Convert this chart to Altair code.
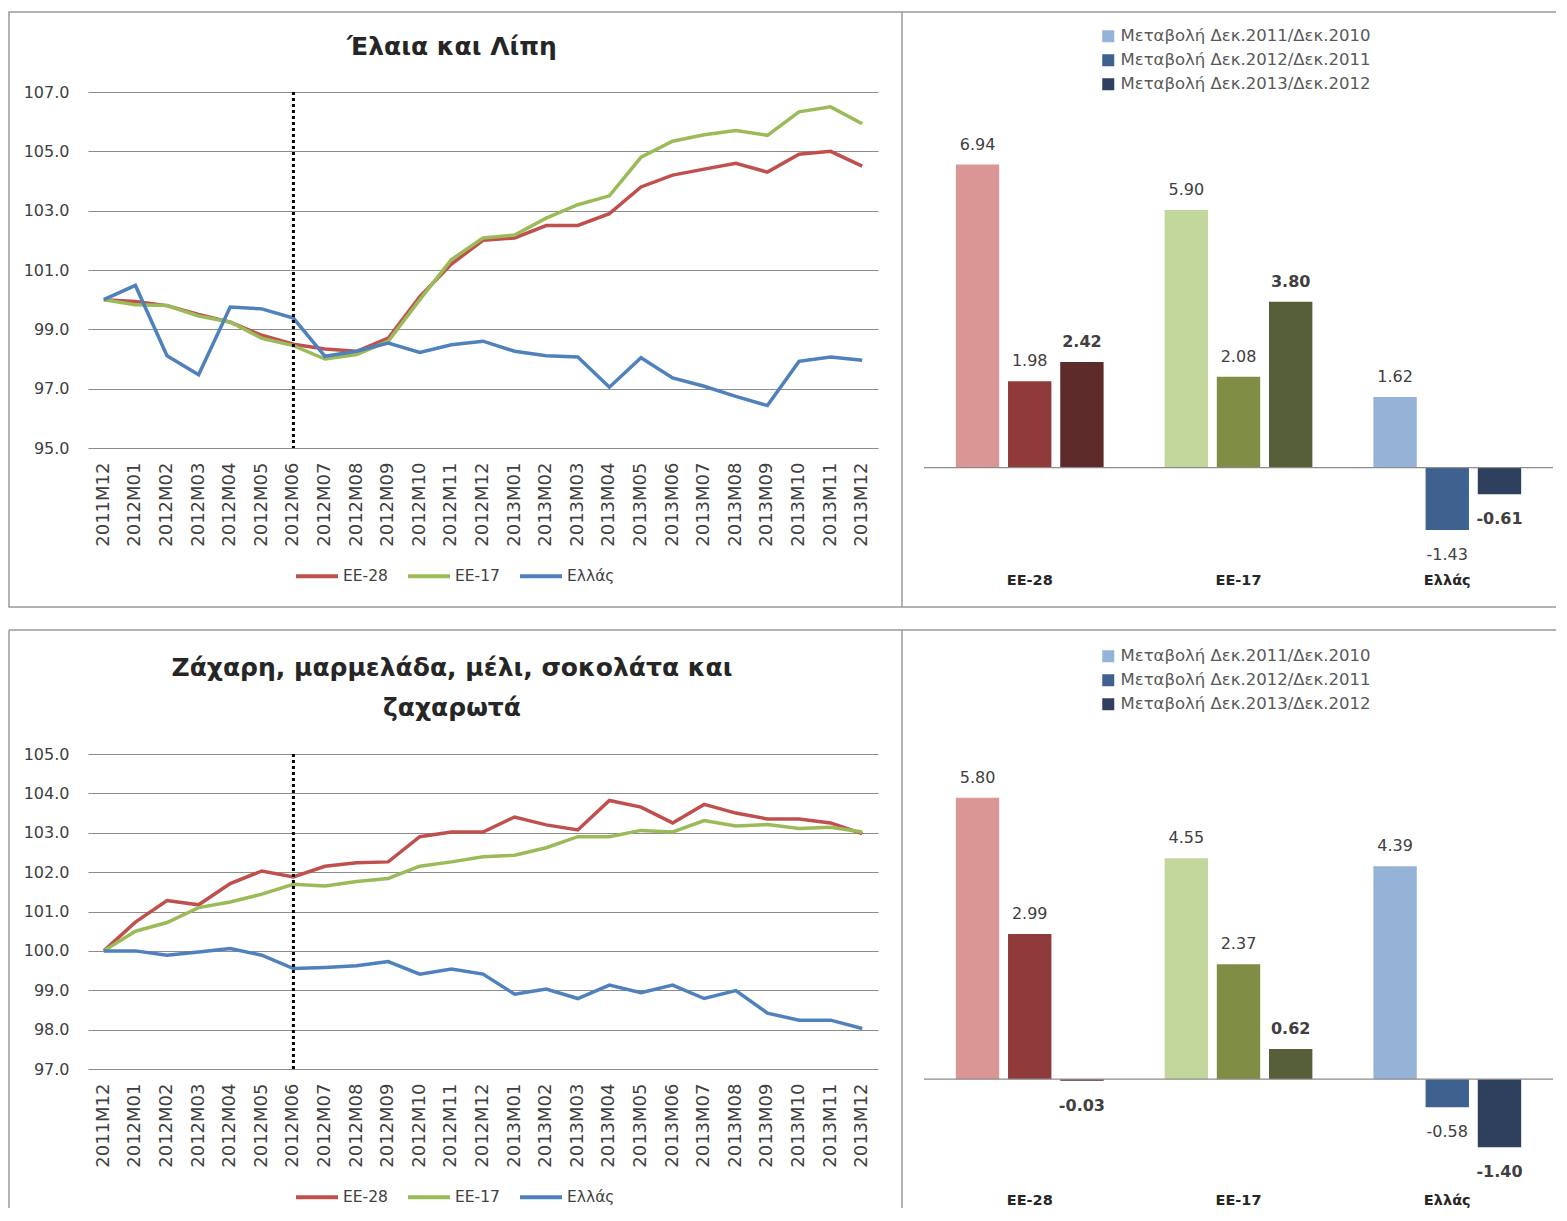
import altair as alt
import pandas as pd

months = ["2011M12", "2012M01", "2012M02", "2012M03", "2012M04", "2012M05", "2012M06",
          "2012M07", "2012M08", "2012M09", "2012M10", "2012M11", "2012M12", "2013M01",
          "2013M02", "2013M03", "2013M04", "2013M05", "2013M06", "2013M07", "2013M08",
          "2013M09", "2013M10", "2013M11", "2013M12"]
series_names = ["ΕΕ-28", "ΕΕ-17", "Ελλάς"]
line_colors = ["#C0504D", "#9BBB59", "#4F81BD"]
marker_month = "2012M06"

oil_title = "Έλαια και Λίπη"
oil_ee28 = [100.0, 99.94, 99.8, 99.5, 99.24, 98.8, 98.5, 98.34, 98.26, 98.7, 100.1, 101.2, 102.0,
            102.08, 102.5, 102.5, 102.9, 103.8, 104.2, 104.4, 104.6, 104.3, 104.9, 105.0, 104.5]
oil_ee17 = [100.0, 99.83, 99.8, 99.45, 99.25, 98.7, 98.45, 98.0, 98.15, 98.6, 100.0, 101.35, 102.08,
            102.18, 102.75, 103.2, 103.5, 104.8, 105.34, 105.56, 105.7, 105.54, 106.33, 106.5, 105.93]
oil_gr = [100.0, 100.48, 98.11, 97.47, 99.75, 99.69, 99.38, 98.09, 98.26, 98.54, 98.22, 98.48, 98.6,
          98.26, 98.11, 98.07, 97.05, 98.04, 97.36, 97.08, 96.74, 96.43, 97.92, 98.07, 97.96]

sug_title = "Ζάχαρη, μαρμελάδα, μέλι, σοκολάτα και\nζαχαρωτά"
sug_ee28 = [100.0, 100.73, 101.28, 101.17, 101.71, 102.03, 101.88, 102.15, 102.24, 102.26, 102.9, 103.02,
            103.02, 103.4, 103.2, 103.07, 103.82, 103.65, 103.25, 103.72, 103.5, 103.35, 103.35, 103.25, 102.98]
sug_ee17 = [100.0, 100.5, 100.72, 101.1, 101.24, 101.44, 101.69, 101.65, 101.76, 101.84, 102.15, 102.26,
            102.39, 102.43, 102.62, 102.9, 102.9, 103.06, 103.02, 103.31, 103.17, 103.21, 103.11, 103.14, 103.02]
sug_gr = [100.0, 100.0, 99.89, 99.97, 100.06, 99.89, 99.55, 99.58, 99.62, 99.73, 99.41, 99.54, 99.41,
          98.9, 99.03, 98.79, 99.13, 98.94, 99.13, 98.79, 98.99, 98.42, 98.24, 98.24, 98.03]

groups = ["ΕΕ-28", "ΕΕ-17", "Ελλάς"]
periods = ["Μεταβολή Δεκ.2011/Δεκ.2010", "Μεταβολή Δεκ.2012/Δεκ.2011", "Μεταβολή Δεκ.2013/Δεκ.2012"]
oil_bar_ee28 = [6.94, 1.98, 2.42]
oil_bar_ee17 = [5.90, 2.08, 3.80]
oil_bar_gr = [1.62, -1.43, -0.61]
sug_bar_ee28 = [5.80, 2.99, -0.03]
sug_bar_ee17 = [4.55, 2.37, 0.62]
sug_bar_gr = [4.39, -0.58, -1.40]

bar_colors = ["#D99694", "#8F3B3C", "#5C2B2A",
              "#C3D69B", "#7F8D45", "#575F39",
              "#95B3D7", "#3E6190", "#2E405E"]
legend_colors = ["#95B3D7", "#3E6190", "#2E405E"]

FONT = "DejaVu Sans"
TXT = "#404040"
BORDER = "#9A9A9A"

keys = [g + "|" + str(i) for g in groups for i in range(len(periods))]
slots = keys[0:3] + ["gap1"] + keys[3:6] + ["gap2"] + keys[6:9]
mid_keys = [g + "|1" for g in groups]


def seg(x, y, x2=None, y2=None):
    enc = {"x": alt.value(x), "y": alt.value(y)}
    if x2 is not None:
        enc["x2"] = alt.value(x2)
    if y2 is not None:
        enc["y2"] = alt.value(y2)
    return alt.Chart(pd.DataFrame({"k": [0]})).mark_rule(color=BORDER, strokeWidth=1.5).encode(**enc)


def line_panel(ee28, ee17, gr, title, title_y, ymin, ymax, height, legend_y, borders):
    n = len(months)
    df = pd.DataFrame({
        "month": months * 3,
        "series": [series_names[0]] * n + [series_names[1]] * n + [series_names[2]] * n,
        "value": ee28 + ee17 + gr,
    })
    step = 2 if ymax - ymin > 8 else 1
    x = alt.X("month:O", scale=alt.Scale(domain=months), title=None,
              axis=alt.Axis(labelAngle=-90, labelFont=FONT, labelFontSize=18, labelColor=TXT,
                            labelPadding=14, ticks=False, domain=False, grid=False))
    y = alt.Y("value:Q", scale=alt.Scale(domain=[ymin, ymax], nice=False, zero=False), title=None,
              axis=alt.Axis(values=list(range(ymin, ymax + 1, step)), format=".1f",
                            grid=True, gridColor="#8C8C8C", gridWidth=1, ticks=False, domain=False,
                            labelFont=FONT, labelFontSize=16, labelColor=TXT, labelPadding=19))
    color = alt.Color("series:N", scale=alt.Scale(domain=series_names, range=line_colors),
                      legend=alt.Legend(title=None, orient="none", direction="horizontal", legendX=206,
                                        legendY=legend_y, symbolType="stroke", symbolSize=1764,
                                        symbolStrokeWidth=4, labelFont=FONT, labelFontSize=15.5,
                                        labelColor=TXT, labelOffset=3, columnPadding=12, padding=0))
    layers = list(borders)
    for s in series_names:
        layers.append(alt.Chart(df).transform_filter(alt.datum.series == s)
                      .mark_line(strokeWidth=3.5).encode(x=x, y=y, color=color))
    rule = alt.Chart(pd.DataFrame({"month": [marker_month]})).mark_rule(
        color="black", strokeWidth=3, strokeDash=[3, 3]).encode(x=alt.X("month:O", scale=alt.Scale(domain=months)))
    layers.append(rule)
    ttl = alt.Chart(pd.DataFrame({"t": [title]})).mark_text(
        font=FONT, fontSize=25, fontWeight="bold", color="#262626", align="center", baseline="middle",
        lineBreak="\n", lineHeight=40).encode(text="t:N", x=alt.value(364), y=alt.value(title_y))
    layers.append(ttl)
    return alt.layer(*layers).properties(width=790, height=height)


def bar_panel(v28, v17, vgr, dom, height, legend_y, label_pad, borders):
    rows = []
    for g, vals in zip(groups, [v28, v17, vgr]):
        for i, v in enumerate(vals):
            rows.append({"key": g + "|" + str(i), "period": periods[i], "value": v,
                         "sgn": 1 if v >= 0 else 0, "bold": 1 if i == 2 else 0})
    df = pd.DataFrame(rows)
    x = alt.X("key:N", title=None,
              scale=alt.Scale(domain=slots, paddingInner=0.169, paddingOuter=0.61),
              axis=alt.Axis(values=mid_keys, labelExpr="split(datum.label, '|')[0]",
                            labelFont=FONT, labelFontSize=14.5, labelFontWeight="bold", labelColor="#262626",
                            labelPadding=label_pad, ticks=False, domain=False, labelAngle=0))
    y = alt.Y("value:Q", scale=alt.Scale(domain=dom, nice=False, zero=False), axis=None)
    bars = alt.Chart(df).mark_bar().encode(
        x=x, y=y, y2=alt.datum(0),
        fill=alt.Fill("key:N", scale=alt.Scale(domain=keys, range=bar_colors), legend=None))
    leg = alt.Chart(df).mark_bar().encode(
        x=x, y=alt.Y("z:Q", scale=alt.Scale(domain=dom, nice=False, zero=False), axis=None), y2=alt.datum(0),
        color=alt.Color("period:N", sort=periods, scale=alt.Scale(domain=periods, range=legend_colors),
                        legend=alt.Legend(title=None, orient="none", legendX=176, legendY=legend_y,
                                          symbolType="square", symbolSize=144, labelLimit=0,
                                          labelFont=FONT, labelFontSize=16.5, labelColor="#595959",
                                          labelOffset=4, rowPadding=7, padding=0))
    ).transform_calculate(z="0")
    zero = alt.Chart(pd.DataFrame({"z": [0]})).mark_rule(color="#8C8C8C", strokeWidth=1.2).encode(
        y=alt.Y("z:Q", axis=None))
    texts = []
    for sgn, dy in [(1, -20), (0, 25)]:
        for b in [0, 1]:
            texts.append(alt.Chart(df)
                         .transform_filter((alt.datum.sgn == sgn) & (alt.datum.bold == b))
                         .transform_calculate(lbl="replace(format(datum.value, '.2f'), '\u2212', '-')")
                         .mark_text(dy=dy, baseline="middle", font=FONT, fontSize=16, color=TXT,
                                    fontWeight="bold" if b else "normal")
                         .encode(x=x, y=y, text="lbl:N"))
    return alt.layer(*(borders + [leg, bars, zero] + texts)).properties(width=629, height=height)


top_left = line_panel(oil_ee28, oil_ee17, oil_gr, oil_title, -45, 95, 107, 356, 461,
                      [alt.Chart(pd.DataFrame({"k": [0]})).mark_rect(fillOpacity=0, stroke=BORDER, strokeWidth=1.5)
                       .encode(x=alt.value(-79), x2=alt.value(814), y=alt.value(-80), y2=alt.value(515))])
top_right = bar_panel(oil_bar_ee28, oil_bar_ee17, oil_bar_gr, [-2.0, 8.6], 463, -64, 18,
                      [seg(-22, -80, x2=632), seg(-22, 515, x2=632)])
bot_left = line_panel(sug_ee28, sug_ee17, sug_gr, sug_title, -86, 97, 105, 315, 420,
                      [seg(-79, -124, y2=454), seg(-79, -124, x2=814), seg(814, -124, y2=454)])
bot_right = bar_panel(sug_bar_ee28, sug_bar_ee17, sug_bar_gr, [-2.2, 6.7], 432, -106, 7,
                      [seg(-22, -124, x2=632)])

chart = alt.concat(top_left, top_right, bot_left, bot_right, columns=2,
                   spacing={"row": 199, "column": 46}, bounds="flush", align="each").resolve_scale(
    color="independent").resolve_legend(color="independent").properties(
    padding={"left": 0, "top": 3, "right": 0, "bottom": 0}).configure(font=FONT).configure_view(
    strokeWidth=0, strokeOpacity=0)

chart.save("out.html", embed_options={"renderer": "svg", "actions": False})
